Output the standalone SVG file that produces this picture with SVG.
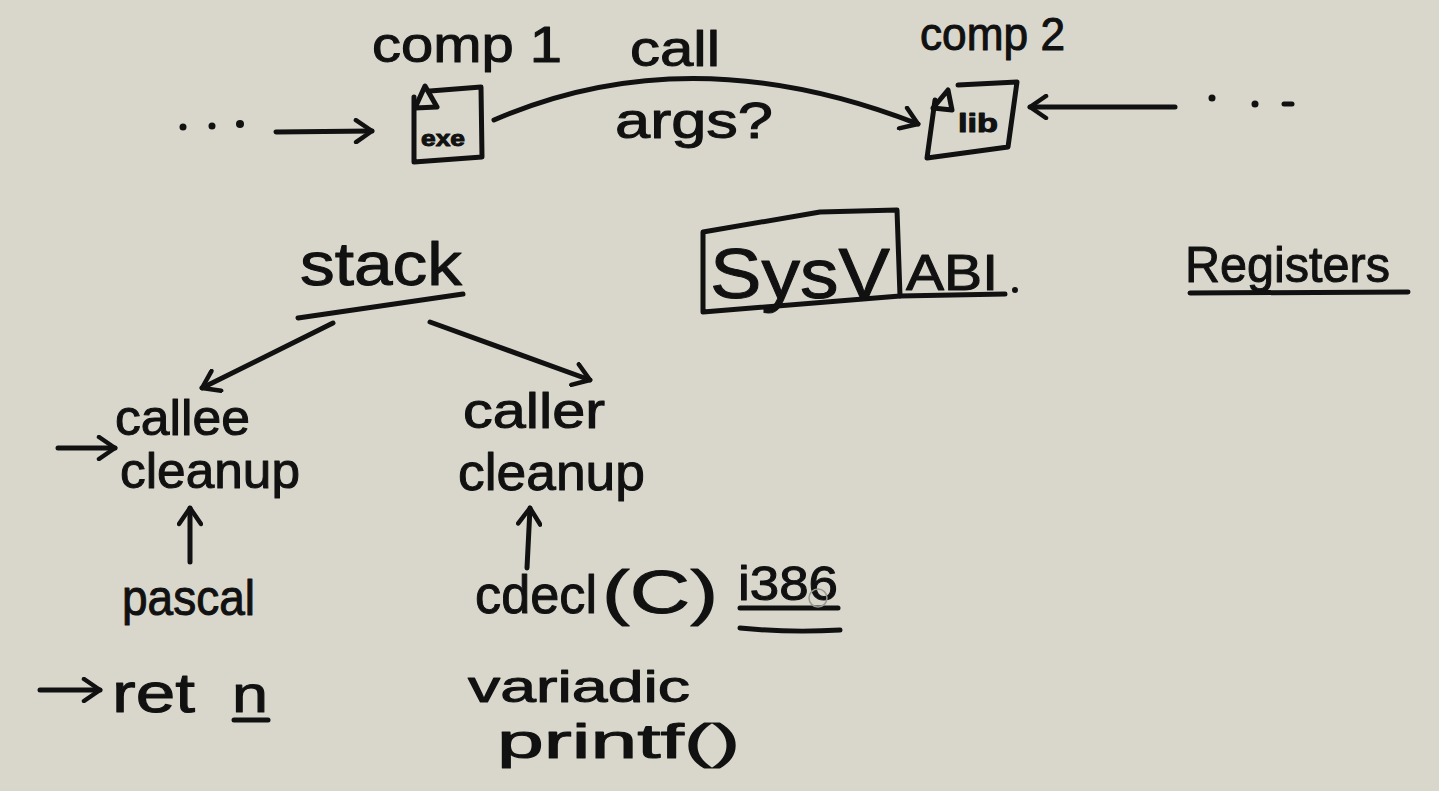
<svg xmlns="http://www.w3.org/2000/svg" width="1439" height="791" viewBox="0 0 1439 791">
<style>
.t{font-family:"Liberation Sans","DejaVu Sans",sans-serif;fill:#111;stroke:#111;stroke-width:1;stroke-linejoin:round}
.s{fill:none;stroke:#111;stroke-width:5;stroke-linecap:round;stroke-linejoin:round}
.c{fill:none;stroke:#111;stroke-width:5;stroke-linecap:round;stroke-linejoin:round;marker-end:url(#chev)}
.d{fill:#111}
</style>
<defs>
<marker id="chev" viewBox="0 0 26 26" refX="20" refY="13" markerWidth="26" markerHeight="26" orient="auto" markerUnits="userSpaceOnUse">
<path d="M4,2 L20,13 L4,24" fill="none" stroke="#111" stroke-width="4.5" stroke-linecap="round" stroke-linejoin="round"/>
</marker>
</defs>
<rect width="1439" height="791" fill="#d9d7cb"/>

<g id="connectors">
<path class="c" d="M276,132 L372,131"/>
<path class="c" d="M494,120 Q690,35 918,124"/>
<path class="c" d="M1175,107 L1030,107"/>
<path class="c" d="M333,323 L202,388"/>
<path class="c" d="M430,322 L590,380"/>
<path class="c" d="M58,448 L115,448"/>
<path class="c" d="M190,562 L190,508"/>
<path class="c" d="M527,568 L530,508"/>
<path class="c" d="M40,690 L100,690"/>
</g>

<g id="dots-left">
<circle class="d" cx="183" cy="127" r="3.5"/>
<circle class="d" cx="212" cy="126" r="3.5"/>
<circle class="d" cx="240" cy="124" r="4"/>
</g>

<g id="comp1">
<text class="t" x="372" y="62" font-size="50" textLength="190" lengthAdjust="spacingAndGlyphs">comp 1</text>
</g>

<g id="exe">
<path class="s" d="M414,97 L414,162 L482,157 L481,87 L430,91"/>
<path class="s" d="M415,108 L425,86 L437,107 Z"/>
<text class="t" x="421" y="146" font-size="22" font-weight="bold" textLength="44" lengthAdjust="spacingAndGlyphs">exe</text>
</g>

<g id="call-label">
<text class="t" x="630" y="66" font-size="50" textLength="90" lengthAdjust="spacingAndGlyphs">call</text>
<text class="t" x="615" y="138" font-size="50" textLength="158" lengthAdjust="spacingAndGlyphs">args?</text>
</g>

<g id="comp2">
<text class="t" x="920" y="50" font-size="46" textLength="145" lengthAdjust="spacingAndGlyphs">comp 2</text>
</g>

<g id="lib">
<path class="s" d="M935,100 L927,158 L1008,147 L1017,82 L958,85"/>
<path class="s" d="M933,108 L948,90 L952,110 Z"/>
<text class="t" x="958" y="132" font-size="26" font-weight="bold" textLength="40" lengthAdjust="spacingAndGlyphs">lib</text>
</g>

<g id="dots-right">
<circle class="d" cx="1212" cy="98" r="3.5"/>
<circle class="d" cx="1255" cy="104" r="3.5"/>
<path class="s" d="M1284,104 L1292,104"/>
</g>

<g id="stack">
<text class="t" x="300" y="285" font-size="62" textLength="162" lengthAdjust="spacingAndGlyphs">stack</text>
<path class="s" d="M298,318 L463,294"/>
</g>

<g id="sysv">
<path class="s" d="M703,232 L703,312 L900,296 L897,210 L820,212 Z"/>
<text class="t" x="710" y="298" font-size="70" textLength="180" lengthAdjust="spacingAndGlyphs">SysV</text>
<text class="t" x="906" y="290" font-size="50" textLength="92" lengthAdjust="spacingAndGlyphs">ABI</text>
<path class="s" d="M900,296 L1005,294"/>
<circle class="d" cx="1015" cy="290" r="3"/>
</g>

<g id="registers">
<text class="t" x="1185" y="282" font-size="50" textLength="205" lengthAdjust="spacingAndGlyphs">Registers</text>
<path class="s" d="M1190,293 L1408,292"/>
</g>

<g id="callee-cleanup">
<text class="t" x="115" y="435" font-size="50" textLength="135" lengthAdjust="spacingAndGlyphs">callee</text>
<text class="t" x="120" y="488" font-size="50" textLength="180" lengthAdjust="spacingAndGlyphs">cleanup</text>
</g>

<g id="pascal">
<text class="t" x="122" y="615" font-size="50" textLength="133" lengthAdjust="spacingAndGlyphs">pascal</text>
</g>

<g id="ret-n">
<text class="t" x="112" y="712" font-size="56" textLength="83" lengthAdjust="spacingAndGlyphs">ret</text>
<text class="t" x="232" y="712" font-size="52" textLength="36" lengthAdjust="spacingAndGlyphs">n</text>
<path class="s" d="M234,720 L268,720"/>
</g>

<g id="caller-cleanup">
<text class="t" x="463" y="428" font-size="50" textLength="142" lengthAdjust="spacingAndGlyphs">caller</text>
<text class="t" x="458" y="490" font-size="52" textLength="187" lengthAdjust="spacingAndGlyphs">cleanup</text>
</g>

<g id="cdecl">
<text class="t" x="475" y="613" font-size="54" textLength="122" lengthAdjust="spacingAndGlyphs">cdecl</text>
<text class="t" x="602" y="613" font-size="62" textLength="116" lengthAdjust="spacingAndGlyphs">(C)</text>
<text class="t" x="738" y="600" font-size="48" textLength="100" lengthAdjust="spacingAndGlyphs">i386</text>
<path class="s" d="M740,608 L838,608"/>
<path class="s" d="M740,628 Q790,633 840,630"/>
<circle cx="818" cy="598" r="9" fill="none" stroke="#9a9a94" stroke-width="1.5"/>
</g>

<g id="variadic">
<text class="t" x="468" y="702" font-size="44" textLength="222" lengthAdjust="spacingAndGlyphs">variadic</text>
<text class="t" x="497" y="758" font-size="48" textLength="243" lengthAdjust="spacingAndGlyphs">printf()</text>
</g>
</svg>
